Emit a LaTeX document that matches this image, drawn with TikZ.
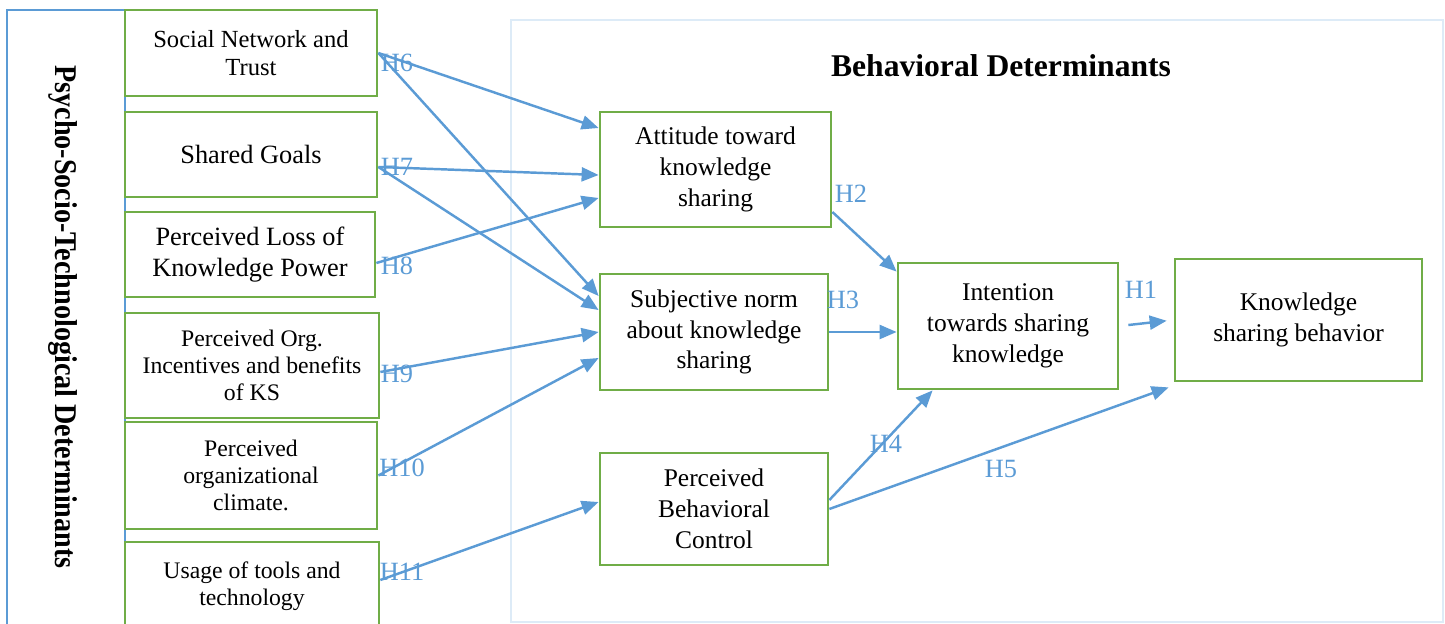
\documentclass[tikz,border=0pt]{standalone}
\usepackage{fontspec}
\setmainfont{Liberation Serif}
\usetikzlibrary{arrows.meta}
\definecolor{hblue}{HTML}{5B9BD5}
\definecolor{bgreen}{HTML}{70AD47}
\definecolor{paleblue}{HTML}{DDEBF7}

\begin{document}
\begin{tikzpicture}[x=0.02cm,y=-0.02cm,every node/.style={black},
  factor/.style={draw=bgreen,line width=1.6pt,align=center,inner sep=0pt},
  behav/.style={factor,font=\fontsize{14.5}{17.5}\selectfont},
  hyp/.style={hblue,font=\fontsize{15}{15}\selectfont,inner sep=0pt},
  arr/.style={hblue,line width=1.4pt,-{Triangle[length=0.34cm,width=0.28cm]}}]
\clip (0,0) rectangle (1445,624);

% frames
\draw[hblue,line width=1.5pt] (7,10) rectangle (125,660);
\draw[paleblue,line width=1.5pt] (511,20) rectangle (1443,622);
\node[rotate=-90] (psy) at (63,317) {\scalebox{0.89}[1]{\fontsize{18}{18}\selectfont\bfseries Psycho-Socio-Technological Determinants}};
\node[font=\fontsize{18}{20}\selectfont\bfseries] (bd) at (1001,66) {Behavioral Determinants};

% psycho-socio-technological factors
\node[factor,minimum width=5.04cm,minimum height=1.72cm,font=\fontsize{14}{16}\selectfont] (snt) at (251,53) {Social Network and\\Trust};
\node[factor,minimum width=5.04cm,minimum height=1.7cm,font=\fontsize{15}{18}\selectfont] (sg) at (251,154.5) {Shared Goals};
\node[factor,minimum width=5cm,minimum height=1.7cm,font=\fontsize{15}{18}\selectfont] (plkp) at (250,254.5) {Perceived Loss of\\Knowledge Power};
\node[factor,minimum width=5.08cm,minimum height=2.1cm,font=\fontsize{13.5}{15.5}\selectfont] (poi) at (252,365.5) {Perceived Org.\\Incentives and benefits\\of KS};
\node[factor,minimum width=5.04cm,minimum height=2.14cm,font=\fontsize{13.5}{15.5}\selectfont] (poc) at (251,475.5) {Perceived\\organizational\\climate.};
\node[factor,minimum width=5.08cm,minimum height=1.76cm,font=\fontsize{13.5}{15.5}\selectfont] (utt) at (252,586) {Usage of tools and\\technology};

% behavioral determinants
\node[behav,minimum width=4.62cm,minimum height=2.3cm] (att) at (715.5,169.5) {Attitude toward\\knowledge\\sharing};
\node[behav,minimum width=4.56cm,minimum height=2.32cm] (sn) at (714,332) {Subjective norm\\about knowledge\\sharing};
\node[behav,minimum width=4.56cm,minimum height=2.24cm] (pbc) at (714,509) {Perceived\\Behavioral\\Control};
\node[behav,minimum width=4.4cm,minimum height=2.52cm] (int) at (1008,326) {Intention\\towards sharing\\knowledge};
\node[behav,minimum width=4.94cm,minimum height=2.44cm] (ksb) at (1298.5,320) {Knowledge\\sharing behavior};

% hypotheses
\draw[arr] (snt.east) -- ([yshift=0.83cm]att.west);
\draw[arr] (snt.east) -- ([yshift=0.72cm]sn.west);
\draw[arr] ([yshift=-0.25cm]sg.east) -- ([yshift=-0.11cm]att.west);
\draw[arr] ([yshift=-0.25cm]sg.east) -- ([yshift=0.44cm]sn.west);
\draw[arr] ([yshift=-0.17cm]plkp.east) -- ([yshift=-0.57cm]att.west);
\draw[arr] ([yshift=-0.13cm]poi.east) -- (sn.west);
\draw[arr] (poc.east) -- ([yshift=-0.52cm]sn.west);
\draw[arr] ([yshift=0.12cm]utt.east) -- ([yshift=0.14cm]pbc.west);
\draw[arr] ([yshift=-0.85cm]att.east) -- ([yshift=-0.2cm]int.north west);
\draw[arr] (sn.east) -- (sn.east -| int.west);
\draw[arr,shorten <=0.18cm,shorten >=0.14cm] (int.east) -- (ksb.west);
\draw[arr] ([yshift=0.18cm]pbc.east) -- ([xshift=0.72cm]int.south west);
\draw[arr] (pbc.east) -- ([xshift=-0.1cm,yshift=-0.1cm]ksb.south west);

\node[hyp] (h6) at (397,63) {H6};
\node[hyp] (h7) at (397,167) {H7};
\node[hyp] (h8) at (397,266) {H8};
\node[hyp] (h9) at (397,374) {H9};
\node[hyp] (h10) at (402,468) {H10};
\node[hyp] (h11) at (402,572) {H11};
\node[hyp] (h2) at (851,194) {H2};
\node[hyp] (h3) at (843,300) {H3};
\node[hyp] (h1) at (1141,290) {H1};
\node[hyp] (h4) at (886,444) {H4};
\node[hyp] (h5) at (1001,469) {H5};

\end{tikzpicture}
\end{document}
